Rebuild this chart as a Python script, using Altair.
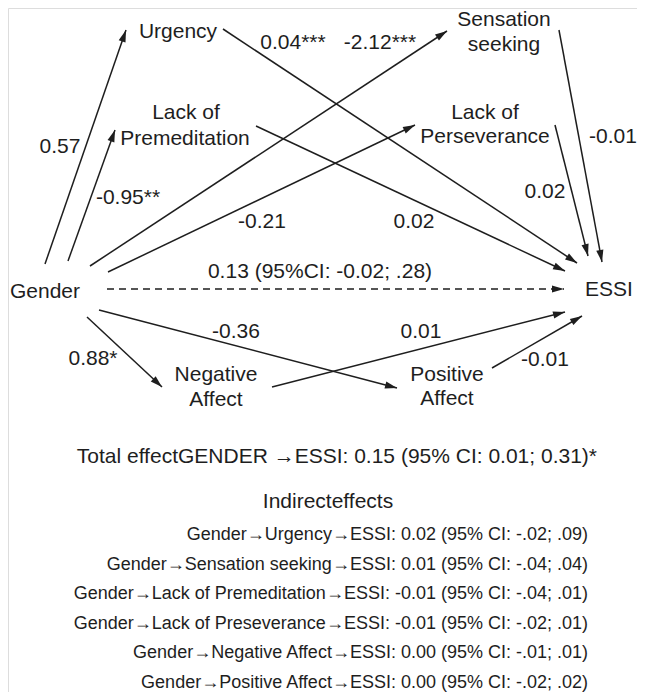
import altair as alt
import pandas as pd
import numpy as np

# ---- node labels (diagram boxes without borders) ----
node_labels = ["Urgency", "Lack of", "Premeditation", "Sensation", "seeking",
               "Lack of", "Perseverance", "Negative", "Affect", "Positive", "Affect", "ESSI"]
node_x = [178, 186, 185, 504, 504, 485, 485, 216, 216, 447, 447, 609]
node_y = [32, 113, 139, 19.5, 45, 113, 137, 375, 400, 375, 399, 290]

source_label = ["Gender"]
source_x = [10]
source_y = [292]

# ---- path coefficients ----
coef_labels = ["0.57", "-0.95**", "0.04***", "-2.12***", "-0.01", "0.02", "-0.21", "0.02",
               "0.13 (95%CI: -0.02; .28)", "-0.36", "0.01", "0.88*", "-0.01"]
coef_x = [60, 128, 293, 380, 613, 545, 262, 414, 320, 236, 421, 93, 545]
coef_y = [147, 198, 43, 43, 137, 192, 222, 222, 272, 332, 332, 359, 360]

# ---- paths (start -> arrow tip) ----
edge_from = ["Gender", "Gender", "Gender", "Gender", "Gender", "Gender", "Gender",
             "Urgency", "Premeditation", "Sensation seeking", "Perseverance",
             "Negative Affect", "Positive Affect"]
edge_to = ["Urgency", "Premeditation", "Sensation seeking", "Perseverance", "ESSI",
           "Negative Affect", "Positive Affect", "ESSI", "ESSI", "ESSI", "ESSI", "ESSI", "ESSI"]
edge_x1 = [45, 68, 90, 108, 107, 87, 99, 223, 256, 559, 555, 272, 492]
edge_y1 = [264, 261, 266, 272, 289, 317, 310, 29, 126, 30, 125, 387, 368]
edge_x2 = [126, 115, 447, 415, 564, 162, 397, 577, 565, 602, 588, 565, 582]
edge_y2 = [30, 130, 31, 125, 289, 387, 388, 263, 271, 262, 256, 312, 316]
edge_dashed = [False, False, False, False, True, False, False,
               False, False, False, False, False, False]

# ---- summary text ----
total_text = ["Total effectGENDER \u2192ESSI: 0.15 (95% CI: 0.01; 0.31)*"]
header_text = ["Indirecteffects"]
indirect_lines = [
    "Gender\u2192Urgency\u2192ESSI: 0.02 (95% CI: -.02; .09)",
    "Gender\u2192Sensation seeking\u2192ESSI: 0.01 (95% CI: -.04; .04)",
    "Gender\u2192Lack of Premeditation\u2192ESSI: -0.01 (95% CI: -.04; .01)",
    "Gender\u2192Lack of Preseverance\u2192ESSI: -0.01 (95% CI: -.02; .01)",
    "Gender\u2192Negative Affect\u2192ESSI: 0.00 (95% CI: -.01; .01)",
    "Gender\u2192Positive Affect\u2192ESSI: 0.00 (95% CI: -.02; .02)",
]
indirect_y = [535, 564.5, 594, 623.5, 653, 682.5]

FONT = "Liberation Sans, Arial, Helvetica, sans-serif"
INK = "#1e1e1e"

xs = alt.Scale(domain=[8, 637])
ys = alt.Scale(domain=[8, 692], reverse=True)

edges = pd.DataFrame({"from": edge_from, "to": edge_to, "x1": edge_x1, "y1": edge_y1,
                      "x2": edge_x2, "y2": edge_y2, "dashed": edge_dashed})
edges["angle"] = np.degrees(np.arctan2(edges.x2 - edges.x1, -(edges.y2 - edges.y1))) % 360

solid = alt.Chart(edges[~edges.dashed]).mark_rule(strokeWidth=1.5, color=INK).encode(
    x=alt.X("x1:Q", scale=xs, axis=None), y=alt.Y("y1:Q", scale=ys, axis=None),
    x2="x2:Q", y2="y2:Q")
dashed = alt.Chart(edges[edges.dashed]).mark_rule(strokeWidth=1.5, color=INK, strokeDash=[7, 5]).encode(
    x=alt.X("x1:Q", scale=xs, axis=None), y=alt.Y("y1:Q", scale=ys, axis=None),
    x2="x2:Q", y2="y2:Q")
heads = alt.Chart(edges).mark_point(shape="M0,0L-0.3,1L0.3,1Z", filled=True, size=576,
                                    color=INK, opacity=1, strokeWidth=0).encode(
    x=alt.X("x2:Q", scale=xs, axis=None), y=alt.Y("y2:Q", scale=ys, axis=None),
    angle=alt.Angle("angle:Q", scale=None))

nodes = pd.DataFrame({"label": node_labels, "x": node_x, "y": node_y})
node_text = alt.Chart(nodes).mark_text(font=FONT, fontSize=21, color=INK, align="center",
                                       baseline="middle").encode(
    x=alt.X("x:Q", scale=xs, axis=None), y=alt.Y("y:Q", scale=ys, axis=None), text="label:N")

src = pd.DataFrame({"label": source_label, "x": source_x, "y": source_y})
src_text = alt.Chart(src).mark_text(font=FONT, fontSize=21, color=INK, align="left",
                                    baseline="middle").encode(
    x=alt.X("x:Q", scale=xs, axis=None), y=alt.Y("y:Q", scale=ys, axis=None), text="label:N")

coefs = pd.DataFrame({"label": coef_labels, "x": coef_x, "y": coef_y})
coef_text = alt.Chart(coefs).mark_text(font=FONT, fontSize=21, color=INK, align="center",
                                       baseline="middle").encode(
    x=alt.X("x:Q", scale=xs, axis=None), y=alt.Y("y:Q", scale=ys, axis=None), text="label:N")

tot = pd.DataFrame({"label": total_text, "x": [597], "y": [457]})
tot_text = alt.Chart(tot).mark_text(font=FONT, fontSize=21, color=INK, align="right",
                                    baseline="middle").encode(
    x=alt.X("x:Q", scale=xs, axis=None), y=alt.Y("y:Q", scale=ys, axis=None), text="label:N")

hdr = pd.DataFrame({"label": header_text, "x": [328], "y": [502]})
hdr_text = alt.Chart(hdr).mark_text(font=FONT, fontSize=21, color=INK, align="center",
                                    baseline="middle").encode(
    x=alt.X("x:Q", scale=xs, axis=None), y=alt.Y("y:Q", scale=ys, axis=None), text="label:N")

ind = pd.DataFrame({"label": indirect_lines, "x": [588] * len(indirect_lines), "y": indirect_y})
ind_text = alt.Chart(ind).mark_text(font=FONT, fontSize=18, color=INK, align="right",
                                    baseline="middle").encode(
    x=alt.X("x:Q", scale=xs, axis=None), y=alt.Y("y:Q", scale=ys, axis=None), text="label:N")

chart = alt.layer(solid, dashed, heads, node_text, src_text, coef_text, tot_text, hdr_text, ind_text).properties(
    width=629, height=684, padding=0, autosize=alt.AutoSizeParams(type="none")
).configure_view(strokeWidth=0).configure(background="white")

chart.save("out.html", embed_options={"renderer": "svg", "actions": False})
